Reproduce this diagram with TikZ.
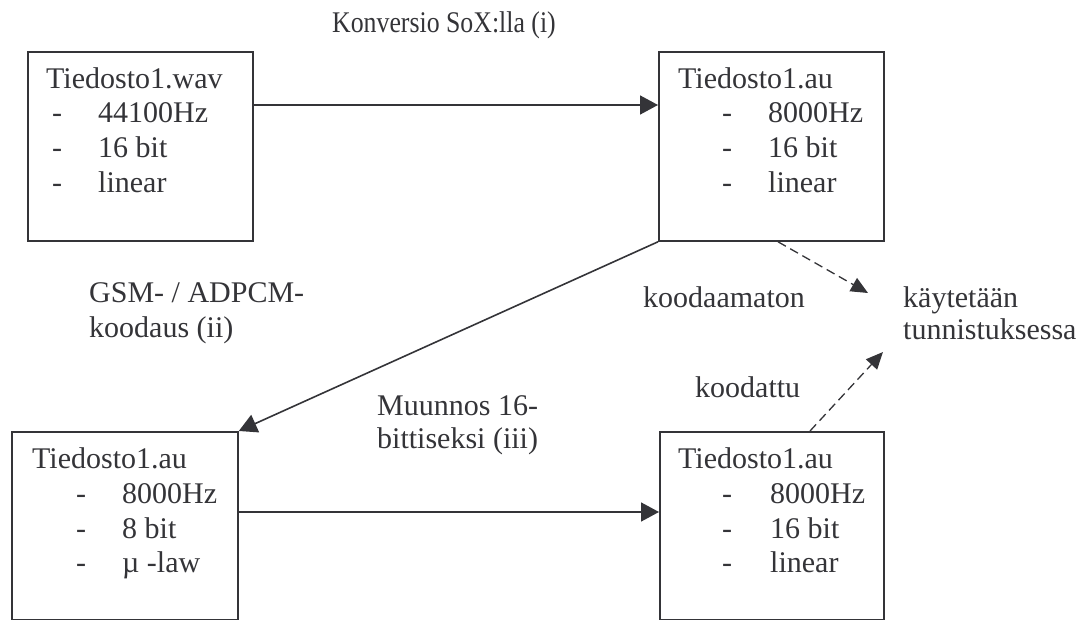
\documentclass[tikz,border=0pt]{standalone}
\usepackage{fontspec}
\setmainfont{Liberation Serif}
\usetikzlibrary{arrows.meta}
\definecolor{ink}{RGB}{52,52,56}
\begin{document}
\begin{tikzpicture}[x=1pt,y=-1pt,
  box/.style={draw=ink, line width=1.8pt, anchor=north west, inner sep=0pt},
  txt/.style={anchor=base west, inner sep=0pt, text=ink, font=\fontsize{30}{34}\selectfont},
  solidarrow/.style={draw=ink, line width=1.6pt, -{Triangle[length=18pt,width=19pt]}},
  dasharrow/.style={draw=ink, line width=1.3pt, dash pattern=on 9pt off 5pt, -{Triangle[length=17pt,width=15pt]}}
]
\useasboundingbox (0,0) rectangle (1085,620);

% boxes
\node[box, minimum width=225pt, minimum height=189pt] (b1) at (27,51) {};
\node[box, minimum width=225pt, minimum height=189pt] (b2) at (658,51) {};
\node[box, minimum width=226pt, minimum height=188pt] (b3) at (11,431) {};
\node[box, minimum width=224pt, minimum height=188pt] (b4) at (659,431) {};

% box 1 text
\node[txt] (b1t0) at (46,89) {Tiedosto1.wav};
\node[txt] (b1d1) at (52,123) {-};
\node[txt] (b1v1) at (98,123) {44100Hz};
\node[txt] (b1d2) at (52,158) {-};
\node[txt] (b1v2) at (98,158) {16 bit};
\node[txt] (b1d3) at (52,193) {-};
\node[txt] (b1v3) at (98,193) {linear};

% box 2 text
\node[txt] (b2t0) at (678,89) {Tiedosto1.au};
\node[txt] (b2d1) at (722,123) {-};
\node[txt] (b2v1) at (768,123) {8000Hz};
\node[txt] (b2d2) at (722,158) {-};
\node[txt] (b2v2) at (768,158) {16 bit};
\node[txt] (b2d3) at (722,193) {-};
\node[txt] (b2v3) at (768,193) {linear};

% box 3 text
\node[txt] (b3t0) at (32,468) {Tiedosto1.au};
\node[txt] (b3d1) at (76,503) {-};
\node[txt] (b3v1) at (122,503) {8000Hz};
\node[txt] (b3d2) at (76,538) {-};
\node[txt] (b3v2) at (122,538) {8 bit};
\node[txt] (b3d3) at (76,572) {-};
\node[txt] (b3v3) at (122,572) {µ -law};

% box 4 text
\node[txt] (b4t0) at (678,468) {Tiedosto1.au};
\node[txt] (b4d1) at (722,503) {-};
\node[txt] (b4v1) at (770,503) {8000Hz};
\node[txt] (b4d2) at (722,538) {-};
\node[txt] (b4v2) at (770,538) {16 bit};
\node[txt] (b4d3) at (722,572) {-};
\node[txt] (b4v3) at (770,572) {linear};

% labels
\node[txt] (l1) at (332,33) {\scalebox{0.86}[1]{Konversio SoX:lla (i)}};
\node[txt] (l2a) at (89,303) {GSM- / ADPCM-};
\node[txt] (l2b) at (89,338) {koodaus (ii)};
\node[txt] (l3a) at (377,415) {Muunnos 16-};
\node[txt] (l3b) at (377,449) {bittiseksi (iii)};
\node[txt] (l4) at (643,308) {koodaamaton};
\node[txt] (l5) at (695,398) {koodattu};
\node[txt] (u1) at (903,308) {käytetään};
\node[txt] (u2) at (903,340) {tunnistuksessa};

\coordinate (e1) at (868,293);
\coordinate (e2) at (883,352);

% connectors
\draw[solidarrow] ([yshift=-54pt]b1.north east) -- ([yshift=-54pt]b2.north west);
\draw[solidarrow] (b2.south west) -- (b3.north east);
\draw[solidarrow] ([yshift=-81pt]b3.north east) -- ([yshift=-81pt]b4.north west);
\draw[dasharrow] ([xshift=120pt]b2.south west) -- (e1);
\draw[dasharrow] ([xshift=151pt]b4.north west) -- (e2);
\end{tikzpicture}
\end{document}
